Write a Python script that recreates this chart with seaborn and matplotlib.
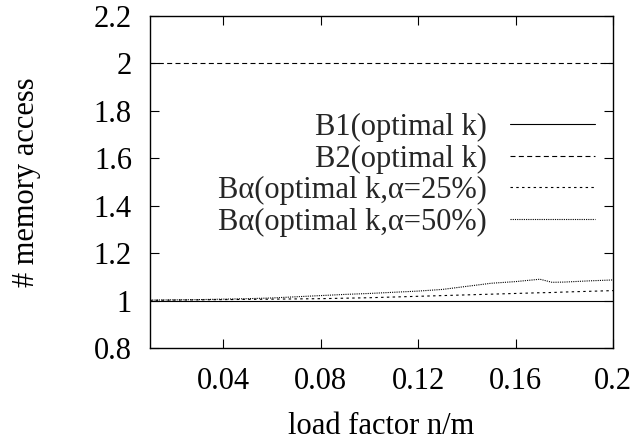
import numpy as np
import pandas as pd
import matplotlib
matplotlib.use("Agg")
import matplotlib.pyplot as plt
import seaborn as sns

# ---- data ----
load_factor = [0.01, 0.02, 0.03, 0.04, 0.05, 0.06, 0.07, 0.08, 0.09, 0.10,
               0.11, 0.12, 0.13, 0.14, 0.15, 0.16, 0.17, 0.175, 0.18, 0.19, 0.20]
b1 = [1.0] * len(load_factor)
b2 = [2.0] * len(load_factor)
ba25 = [1.001, 1.002, 1.003, 1.004, 1.005, 1.006, 1.007, 1.008, 1.010, 1.012,
        1.015, 1.018, 1.021, 1.024, 1.027, 1.030, 1.033, 1.034, 1.036, 1.039, 1.042]
ba50 = [1.002, 1.003, 1.004, 1.006, 1.008, 1.011, 1.016, 1.021, 1.026, 1.030,
        1.035, 1.040, 1.047, 1.060, 1.073, 1.080, 1.090, 1.077, 1.078, 1.083, 1.087]
labels = ["B1(optimal k)", "B2(optimal k)",
          "B\u03b1(optimal k,\u03b1=25%)", "B\u03b1(optimal k,\u03b1=50%)"]
xticks = [0.04, 0.08, 0.12, 0.16, 0.2]
xticklabels = ["0.04", "0.08", "0.12", "0.16", "0.2"]
yticks = [0.8, 1.0, 1.2, 1.4, 1.6, 1.8, 2.0, 2.2]
yticklabels = ["0.8", "1", "1.2", "1.4", "1.6", "1.8", "2", "2.2"]

sns.set_theme(style="ticks")
plt.rcParams["font.family"] = ["Liberation Serif", "DejaVu Serif"]

FS = 22

fig = plt.figure(figsize=(6.39, 4.44), dpi=100)
ax = fig.add_axes([150/639, 1-348/444, 463/639, 332/444])

styles = ["-", (0, (4.5, 3)), (0, (2.2, 3)), (0, (1, 1))]
series = [b1, b2, ba25, ba50]
for vals, lab, ls in zip(series, labels, styles):
    df = pd.DataFrame({"x": load_factor, "y": vals})
    sns.lineplot(data=df, x="x", y="y", ax=ax, color="black", linewidth=0.8,
                 linestyle=ls, label=lab)

ax.set_xlim(0.01, 0.2)
ax.set_ylim(0.8, 2.2)
ax.set_xticks(xticks)
ax.set_xticklabels(xticklabels)
ax.set_yticks(yticks)
ax.set_yticklabels(yticklabels)
ax.tick_params(direction="in", length=6.5, width=0.8, top=True, right=True,
               labelsize=FS, colors="black")
ax.tick_params(axis="y", pad=13)
ax.tick_params(axis="x", pad=14)
for s in ax.spines.values():
    s.set_linewidth(1.0)
    s.set_color("black")
    s.set_visible(True)

ax.set_xlabel("load factor n/m", fontsize=FS, labelpad=11, color="black")
ax.set_ylabel("# memory access", fontsize=FS, labelpad=38, color="black")

leg = ax.legend(loc="upper right", bbox_to_anchor=(0.962, 0.708),
                frameon=False, markerfirst=False, fontsize=FS,
                handlelength=2.8, handletextpad=0.75, labelspacing=0.08,
                borderpad=0, borderaxespad=0)
for h in leg.get_lines():
    h.set_linewidth(0.8)

fig.savefig("out.png", dpi=100)
